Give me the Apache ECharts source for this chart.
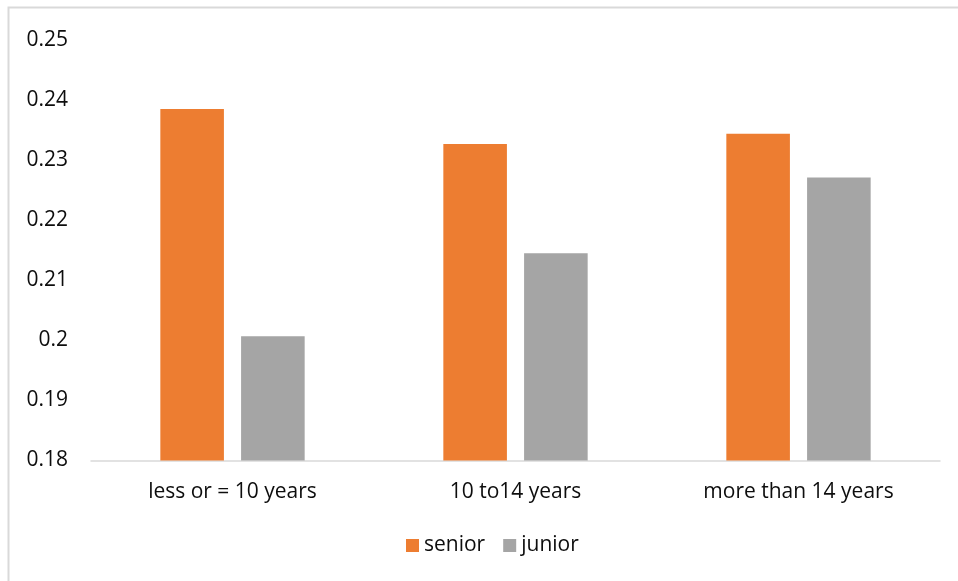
<!DOCTYPE html>
<html>
<head>
<meta charset="utf-8">
<script src="https://cdn.jsdelivr.net/npm/echarts@6/dist/echarts.min.js"></script>
<style>
  html, body { margin: 0; padding: 0; background: #ffffff; }
  #chart { width: 958px; height: 581px; }
</style>
</head>
<body>
<div id="chart"></div>
<script>
// Tenure groups on the category axis
const categories = ['less or = 10 years', '10 to14 years', 'more than 14 years'];

// Series values
const seniorValues = [0.2385, 0.2327, 0.2344];
const juniorValues = [0.2007, 0.2145, 0.2271];

// Value axis range and ticks
const yMin = 0.18;
const yMax = 0.25;
const yStep = 0.01;

const FONT = '"Open Sans", "Noto Sans", sans-serif';
const TEXT_COLOR = '#0d0d0d';
const LINE_COLOR = '#d9d9d9';

const chart = echarts.init(document.getElementById('chart'), null, { renderer: 'canvas' });

chart.setOption({
  animation: false,
  backgroundColor: '#ffffff',
  textStyle: { fontFamily: FONT },
  graphic: [{
    type: 'rect',
    shape: { x: 8.5, y: 7.5, width: 1200, height: 1200 },
    style: { fill: 'none', stroke: LINE_COLOR, lineWidth: 2 },
    silent: true,
    z: -10
  }],
  grid: { left: 91, right: 18, top: 40, bottom: 120.5, containLabel: false },
  legend: {
    data: ['senior', 'junior'],
    top: 530,
    left: 401,
    icon: 'rect',
    itemWidth: 13,
    itemHeight: 13,
    itemGap: 18,
    textStyle: { fontFamily: FONT, fontSize: 21, color: TEXT_COLOR }
  },
  xAxis: {
    type: 'category',
    data: categories,
    axisLine: { show: true, lineStyle: { color: LINE_COLOR, width: 1.5 } },
    axisTick: { show: false },
    axisLabel: { fontFamily: FONT, fontSize: 21, color: TEXT_COLOR, margin: 21 },
    splitLine: { show: false }
  },
  yAxis: {
    type: 'value',
    min: yMin,
    max: yMax,
    interval: yStep,
    axisLine: { show: false },
    axisTick: { show: false },
    splitLine: { show: false },
    axisLabel: {
      fontFamily: FONT,
      fontSize: 21,
      color: TEXT_COLOR,
      margin: 23,
      formatter: v => String(+v.toFixed(2))
    }
  },
  series: [
    {
      name: 'senior',
      type: 'bar',
      data: seniorValues,
      barGap: '27%',
      barCategoryGap: '49%',
      itemStyle: { color: '#ED7D31' }
    },
    {
      name: 'junior',
      type: 'bar',
      data: juniorValues,
      barGap: '27%',
      barCategoryGap: '49%',
      itemStyle: { color: '#A5A5A5' }
    }
  ]
});
</script>
</body>
</html>
